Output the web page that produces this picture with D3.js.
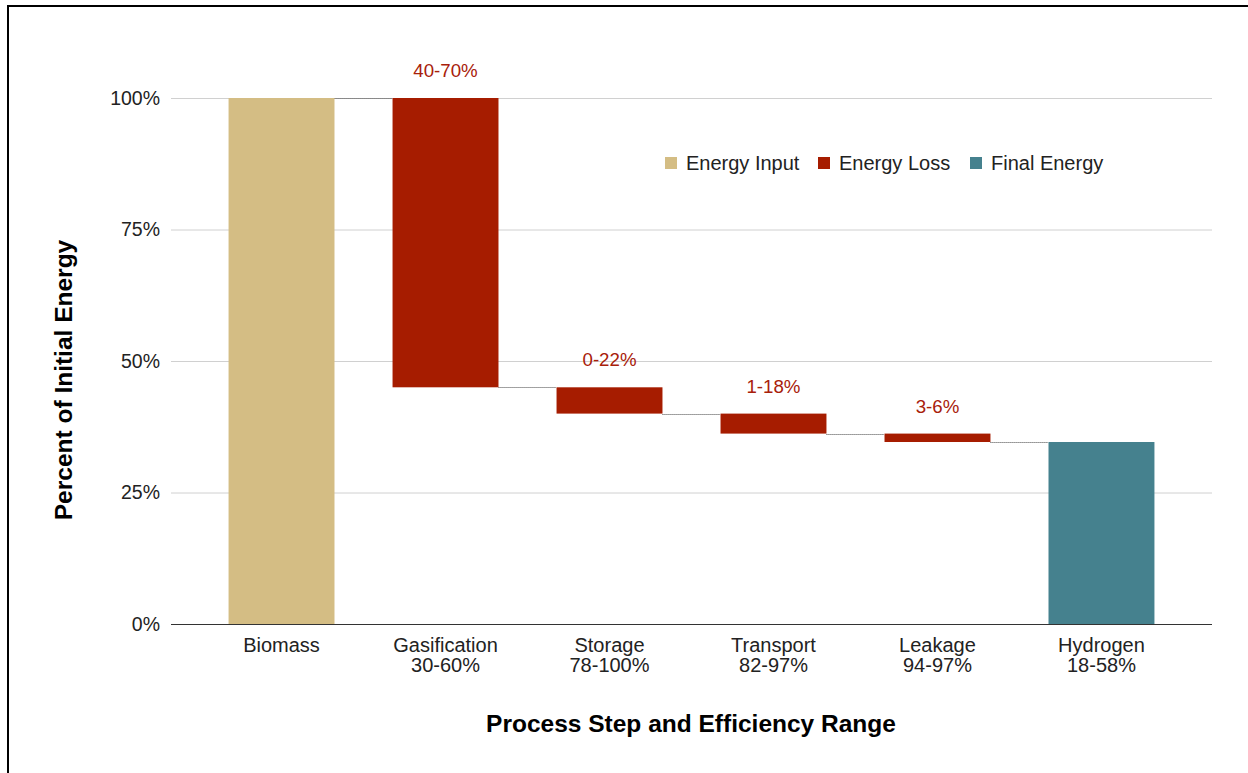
<!DOCTYPE html>
<html>
<head>
<meta charset="utf-8">
<script src="https://cdn.jsdelivr.net/npm/d3@7"></script>
<style>
  html, body { margin: 0; padding: 0; background: #fff; }
  svg { display: block; font-family: "Liberation Sans", Arial, sans-serif; }
</style>
</head>
<body>
<svg id="chart" width="1248" height="773"></svg>
<script>
// Process steps (two-line category labels) and the energy flow through them
const steps = ["Biomass", "Gasification", "Storage", "Transport", "Leakage", "Hydrogen"];
const efficiencyRanges = ["", "30-60%", "78-100%", "82-97%", "94-97%", "18-58%"];
const stepKinds = ["input", "loss", "loss", "loss", "loss", "final"];
// Running energy level (percent of initial) after each step
const levelAfter = [100, 45, 40, 36.2, 34.6, 34.6];
// Loss-range labels shown above each loss bar
const lossLabels = ["", "40-70%", "0-22%", "1-18%", "3-6%", ""];
const yTicks = [0, 25, 50, 75, 100];
const legendItems = [
  { kind: "input", label: "Energy Input" },
  { kind: "loss", label: "Energy Loss" },
  { kind: "final", label: "Final Energy" }
];

const colors = { input: "#d4bd84", loss: "#a61c00", final: "#45818e" };

const svg = d3.select("#chart");

// Outer frame
svg.append("rect")
  .attr("x", 8).attr("y", 6)
  .attr("width", 1300).attr("height", 900)
  .attr("fill", "none").attr("stroke", "#000").attr("stroke-width", 2);

const plot = { left: 171, right: 1212, top: 98, bottom: 624 };

const x = d3.scaleBand()
  .domain(steps)
  .range([plot.left, plot.right])
  .paddingInner(0.354)
  .paddingOuter(0.351);

const y = d3.scaleLinear().domain([0, 100]).range([plot.bottom, plot.top]);

// Gridlines and percent ticks
const yAxis = d3.axisLeft(y)
  .tickValues(yTicks)
  .tickFormat(d => d + "%")
  .tickSize(-(plot.right - plot.left))
  .tickPadding(11);

const gy = svg.append("g")
  .attr("transform", `translate(${plot.left},0)`)
  .call(yAxis);
gy.select(".domain").remove();
gy.selectAll(".tick line")
  .attr("stroke", d => d === 0 ? "#333" : "#d0d0d0")
  .attr("stroke-width", 1);
gy.selectAll(".tick text")
  .attr("font-size", 19.5)
  .attr("font-family", "Liberation Sans, Arial, sans-serif")
  .attr("fill", "#222");

// Bar extents from the running level
const bars = steps.map((s, i) => {
  const prev = i === 0 ? 0 : levelAfter[i - 1];
  let lo, hi;
  if (stepKinds[i] === "loss") { lo = levelAfter[i]; hi = prev; }
  else { lo = 0; hi = levelAfter[i]; }
  return { step: s, kind: stepKinds[i], lo, hi, label: lossLabels[i] };
});

// Dotted connectors between consecutive bars
const connectors = d3.range(steps.length - 1).map(i => ({
  x1: x(steps[i]) + x.bandwidth(),
  x2: x(steps[i + 1]),
  v: levelAfter[i]
}));
svg.append("g").selectAll("line")
  .data(connectors)
  .join("line")
  .attr("x1", d => d.x1).attr("x2", d => d.x2)
  .attr("y1", d => Math.round(y(d.v)) + 0.5).attr("y2", d => Math.round(y(d.v)) + 0.5)
  .attr("stroke", "#444")
  .attr("stroke-width", 1)
  .attr("stroke-dasharray", "1,1");

svg.append("g").selectAll("rect")
  .data(bars)
  .join("rect")
  .attr("x", d => x(d.step))
  .attr("width", x.bandwidth())
  .attr("y", d => y(d.hi))
  .attr("height", d => y(d.lo) - y(d.hi))
  .attr("fill", d => colors[d.kind]);

// Loss range labels
svg.append("g").selectAll("text")
  .data(bars.filter(d => d.label))
  .join("text")
  .attr("x", d => x(d.step) + x.bandwidth() / 2)
  .attr("y", d => y(d.hi) - 21)
  .attr("text-anchor", "middle")
  .attr("font-size", 18.7)
  .attr("fill", "#a8200a")
  .text(d => d.label);

// Category labels (step name + efficiency range)
const cat = svg.append("g").selectAll("text")
  .data(steps)
  .join("text")
  .attr("x", d => x(d) + x.bandwidth() / 2)
  .attr("y", 652)
  .attr("text-anchor", "middle")
  .attr("font-size", 20)
  .attr("fill", "#222");
cat.append("tspan").attr("x", d => x(d) + x.bandwidth() / 2).text(d => d);
cat.append("tspan")
  .attr("x", d => x(d) + x.bandwidth() / 2)
  .attr("dy", 20)
  .text((d, i) => efficiencyRanges[i]);

// Axis titles
svg.append("text")
  .attr("transform", `translate(72,380) rotate(-90)`)
  .attr("text-anchor", "middle")
  .attr("font-size", 24.5)
  .attr("font-weight", "bold")
  .attr("fill", "#000")
  .text("Percent of Initial Energy");

svg.append("text")
  .attr("x", 691)
  .attr("y", 732)
  .attr("text-anchor", "middle")
  .attr("font-size", 24.5)
  .attr("font-weight", "bold")
  .attr("fill", "#000")
  .text("Process Step and Efficiency Range");

// Legend
const legendX = [665, 818, 970];
const lg = svg.append("g").selectAll("g")
  .data(legendItems)
  .join("g")
  .attr("transform", (d, i) => `translate(${legendX[i]},157)`);
lg.append("rect")
  .attr("width", 12).attr("height", 12)
  .attr("fill", d => colors[d.kind]);
lg.append("text")
  .attr("x", 21).attr("y", 13)
  .attr("font-size", 20)
  .attr("fill", "#222")
  .text(d => d.label);
</script>
</body>
</html>
